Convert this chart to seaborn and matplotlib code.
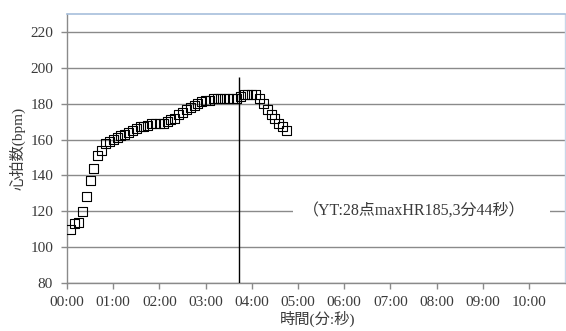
import numpy as np
import pandas as pd
import matplotlib
matplotlib.use("Agg")
import matplotlib.pyplot as plt
from matplotlib.patches import Rectangle
from matplotlib.ticker import FuncFormatter, MultipleLocator
import seaborn as sns

# Heart rate samples every 5 seconds during the test
elapsed_sec = list(range(5, 290, 5))
heart_rate = [110, 113, 114, 120, 128, 137, 144, 151, 154, 158,
              159, 160, 161, 162, 163, 164, 165, 166, 167, 167,
              168, 169, 169, 169, 169, 170, 171, 172, 174, 175,
              177, 178, 179, 180, 181, 182, 182, 183, 183, 183,
              183, 183, 183, 183, 184, 185, 185, 185, 185, 183,
              180, 177, 174, 172, 169, 167, 165]

yt_time_sec = 224          # 3:44
yt_line_top = 195
note_text = "（YT:28点maxHR185,3分44秒）"
note_y = 120
x_label = "時間(分:秒)"
y_label = "心拍数(bpm)"

df = pd.DataFrame({"min": np.array(elapsed_sec) / 60.0, "hr": heart_rate})

sns.set_style("white")
fam = ["Liberation Serif", "Noto Sans CJK JP", "DejaVu Sans"]
plt.rcParams["font.family"] = fam

W, H = 566, 331
fig = plt.figure(figsize=(W / 100, H / 100), dpi=100)
ax = fig.add_axes([67 / W, 48 / H, (565 - 67) / W, (283 - 14) / H])

sns.scatterplot(data=df, x="min", y="hr", ax=ax, marker="s", s=42,
                facecolor="none", edgecolor="black", linewidth=0.8, zorder=3)

ax.set_xlim(0, 10.78)
ax.set_ylim(80, 230)
ax.xaxis.set_major_locator(MultipleLocator(1))
ax.xaxis.set_major_formatter(FuncFormatter(lambda v, p: f"{int(round(v)):02d}:00"))
ax.set_yticks(range(80, 221, 20))

ax.grid(axis="y", color="#8a8a8a", linewidth=1.0)
ax.grid(axis="x", visible=False)
ax.set_axisbelow(True)

for s in ("left", "bottom"):
    ax.spines[s].set_color("#8a8a8a")
    ax.spines[s].set_linewidth(1.0)
ax.spines["top"].set_color("#a7bfdb")
ax.spines["top"].set_linewidth(1.2)
ax.spines["right"].set_color("#c8d6e8")
ax.spines["right"].set_linewidth(1.0)

ax.tick_params(axis="both", which="major", direction="out", length=4,
               width=1.0, color="#8a8a8a", labelsize=11, labelcolor="#3a3a3a",
               bottom=True, left=True)
ax.tick_params(axis="x", pad=5)
ax.tick_params(axis="y", pad=6)

ax.vlines(yt_time_sec / 60.0, 80, yt_line_top, color="black", linewidth=1.0, zorder=4)

# white label box interrupting the 120 gridline
x0 = (293 - 67) / 46.2
x1 = (550 - 67) / 46.2
ax.add_patch(Rectangle((x0, note_y - 4), x1 - x0, 8, facecolor="white",
                       edgecolor="none", zorder=2))
ax.text((414 - 67) / 46.2, note_y, note_text, ha="center", va="center",
        fontsize=11.5, color="#3a3a3a", zorder=5)

ax.set_xlabel(x_label, fontsize=11, color="#3a3a3a")
ax.set_ylabel(y_label, fontsize=11, color="#3a3a3a")
ax.xaxis.set_label_coords((318 - 67) / 498, (283 - 319) / 269)
ax.yaxis.set_label_coords((18 - 67) / 498, (283 - 148) / 269)
ax.xaxis.label.set_va("center")
ax.yaxis.label.set_va("center")

fig.savefig("out.png", dpi=100)
